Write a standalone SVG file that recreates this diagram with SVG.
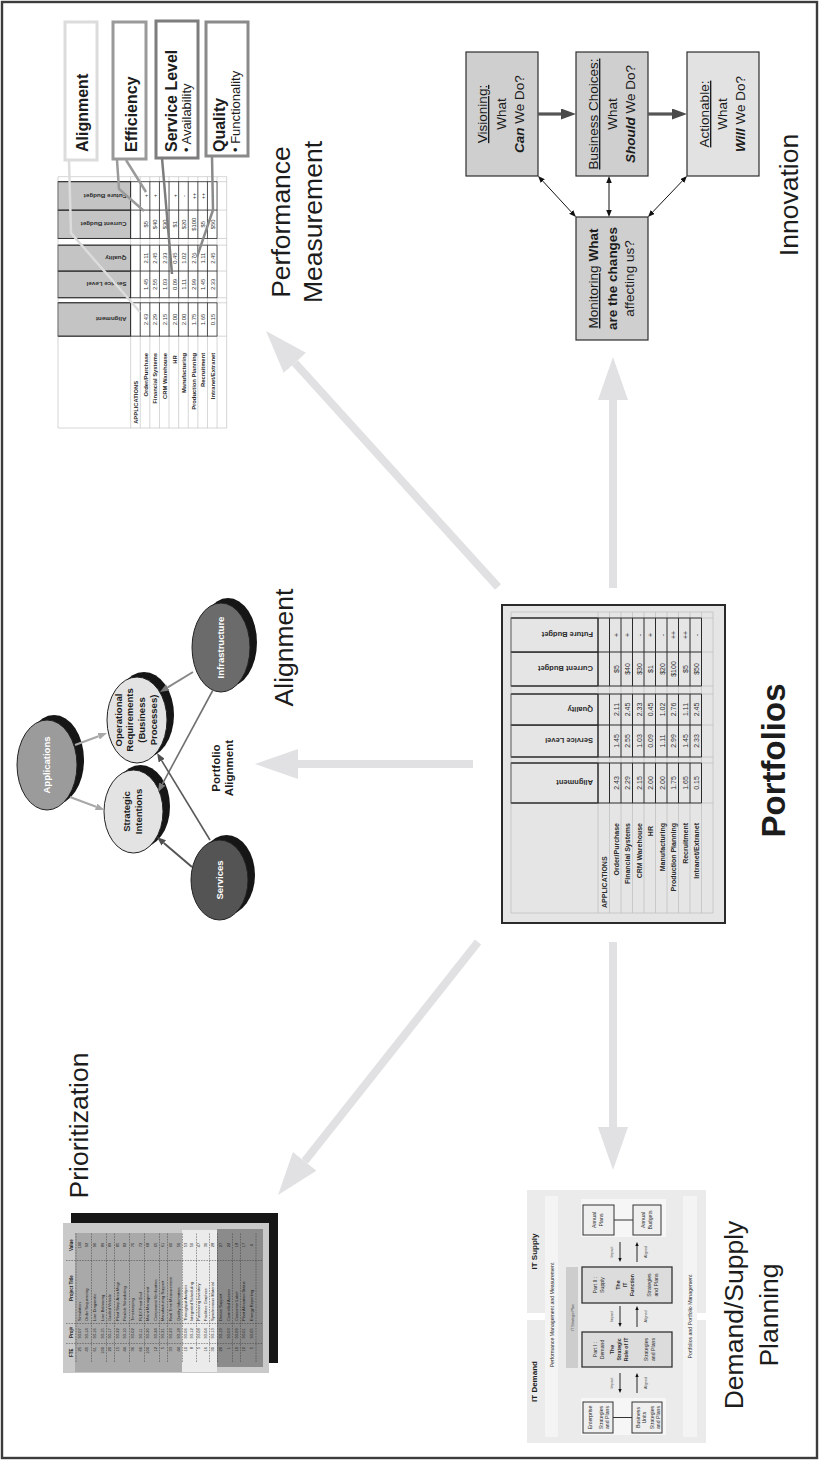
<svg xmlns="http://www.w3.org/2000/svg" width="820" height="1461" viewBox="0 0 820 1461">
<style>
text{font-family:"Liberation Sans",Arial,Helvetica,sans-serif;fill:#1c1c1c}
.lbl{font-size:26.5px;text-anchor:middle}
.ttl{font-size:33px;font-weight:bold;text-anchor:middle}
.hd{font-size:7.5px;font-weight:bold;fill:#2a2a2a}
.val{font-size:7px;text-anchor:middle;fill:#333}
.nm{font-size:7px;font-weight:bold;text-anchor:end;fill:#2a2a2a}
.kpi{font-size:16px;font-weight:bold}
.kpis{font-size:13px}
.inn{font-size:13.5px;text-anchor:middle}
.b{font-weight:bold}
.bi{font-weight:bold;font-style:italic}
.ul{text-decoration:underline}
.ell{font-size:9.5px;font-weight:bold;text-anchor:middle}
.wt{fill:#fff}
.pr{font-size:4px;fill:#1e1e1e}
.prh{font-size:4.5px;font-weight:bold;fill:#1e1e1e}
.e{text-anchor:end}
.m{text-anchor:middle}
.ds{font-size:5.2px;text-anchor:middle;fill:#2a2a2a}
.dsh{font-size:8px;font-weight:bold;text-anchor:middle}
.tiny{font-size:3.6px;text-anchor:middle;fill:#444}
.big{fill:none;stroke:#e1e1e3;stroke-width:8;marker-end:url(#bigHead)}
.ibox{stroke:#2e2e2e;stroke-width:1.2}
.dbl{fill:none;stroke:#111;stroke-width:1;marker-start:url(#thin);marker-end:url(#thin)}
.thick{fill:none;stroke:#555;stroke-width:3.2;marker-end:url(#thick)}
.sm{fill:none;stroke:#111;stroke-width:0.9;marker-end:url(#small)}
.dash{fill:none;stroke:#3a3a3a;stroke-width:0.5;stroke-dasharray:1.6 1.1}
.kbox{fill:#fff;stroke-width:3}
.dsbox{fill:#dcdcdc;stroke:#333;stroke-width:1.3}
.dssm{fill:#efefef;stroke:#333;stroke-width:1}
.shadow{fill:#161616}
.eln{stroke:#222;stroke-width:1}
</style>
<defs>
  <marker id="bigHead" markerUnits="userSpaceOnUse" markerWidth="43" markerHeight="30" viewBox="0 0 43 30" refX="0" refY="15" orient="auto"><path d="M0,0 L43,15 L0,30 Z" fill="#e1e1e3"/></marker>
  <marker id="thick" markerUnits="userSpaceOnUse" markerWidth="15" markerHeight="11" viewBox="0 0 15 11" refX="0" refY="5.5" orient="auto"><path d="M0,0 L15,5.5 L0,11 Z" fill="#4a4a4a"/></marker>
  <marker id="thin" markerUnits="userSpaceOnUse" markerWidth="7" markerHeight="5.5" viewBox="0 0 7 5.5" refX="0" refY="2.75" orient="auto-start-reverse"><path d="M0,0 L7,2.75 L0,5.5 Z" fill="#111"/></marker>
  <marker id="hL" markerUnits="userSpaceOnUse" markerWidth="9" markerHeight="7" viewBox="0 0 9 7" refX="0" refY="3.5" orient="auto"><path d="M0,0 L9,3.5 L0,7 Z" fill="#a8a8a8"/></marker>
  <marker id="hM" markerUnits="userSpaceOnUse" markerWidth="9" markerHeight="7" viewBox="0 0 9 7" refX="0" refY="3.5" orient="auto"><path d="M0,0 L9,3.5 L0,7 Z" fill="#7a7a7a"/></marker>
  <marker id="hD" markerUnits="userSpaceOnUse" markerWidth="9" markerHeight="7" viewBox="0 0 9 7" refX="0" refY="3.5" orient="auto"><path d="M0,0 L9,3.5 L0,7 Z" fill="#505050"/></marker>
  <marker id="small" markerUnits="userSpaceOnUse" markerWidth="4" markerHeight="3.4" viewBox="0 0 4 3.4" refX="0" refY="1.7" orient="auto"><path d="M0,0 L4,1.7 L0,3.4 Z" fill="#111"/></marker>

  <!-- portfolio scorecard table; header cells take the fill of the <use> -->
  <g id="ptable">
    <g stroke="#2b2b2b" stroke-width="1">
      <rect x="658" y="511" width="40" height="87"/>
      <rect x="704" y="511" width="32" height="87"/>
      <rect x="736" y="511" width="31" height="87"/>
      <rect x="775" y="511" width="34" height="87"/>
      <rect x="809" y="511" width="34" height="87"/>
    </g>
    <path fill="none" stroke="#c2c2c2" stroke-width="0.8" d="M548,511H849V713H548Z
      M548,598H658M698,598H704M767,598H775M843,598H849
      M548,609.5H658M698,609.5H704M767,609.5H775M843,609.5H849
      M548,621H658M698,621H704M767,621H775M843,621H849
      M548,632.5H658M698,632.5H704M767,632.5H775M843,632.5H849
      M548,644H658M698,644H704M767,644H775M843,644H849
      M548,655.5H658M698,655.5H704M767,655.5H775M843,655.5H849
      M548,667H658M698,667H704M767,667H775M843,667H849
      M548,678.5H658M698,678.5H704M767,678.5H775M843,678.5H849
      M548,690H658M698,690H704M767,690H775M843,690H849
      M548,701.5H658M698,701.5H704M767,701.5H775M843,701.5H849
      M658,701.5V713M698,701.5V713M704,701.5V713M736,701.5V713M767,701.5V713M775,701.5V713M809,701.5V713M843,701.5V713"/>
    <path fill="none" stroke="#2b2b2b" stroke-width="1" d="M658,511V701.5M698,511V701.5M704,511V701.5M736,511V701.5M767,511V701.5M775,511V701.5M809,511V701.5M843,511V701.5
      M658,598H698M704,598H767M775,598H843
      M658,609.5H698M704,609.5H767M775,609.5H843
      M658,621H698M704,621H767M775,621H843
      M658,632.5H698M704,632.5H767M775,632.5H843
      M658,644H698M704,644H767M775,644H843
      M658,655.5H698M704,655.5H767M775,655.5H843
      M658,667H698M704,667H767M775,667H843
      M658,678.5H698M704,678.5H767M775,678.5H843
      M658,690H698M704,690H767M775,690H843
      M658,701.5H698M704,701.5H767M775,701.5H843"/>
    <text class="hd" transform="translate(680.7,593) rotate(-90)">Alignment</text>
    <text class="hd" transform="translate(722.7,593) rotate(-90)">Service Level</text>
    <text class="hd" transform="translate(754.2,593) rotate(-90)">Quality</text>
    <text class="hd" transform="translate(794.7,593) rotate(-90)">Current Budget</text>
    <text class="hd" transform="translate(828.7,593) rotate(-90)">Future Budget</text>
    <text class="nm" style="text-anchor:start" x="553" y="607">APPLICATIONS</text>
    <text class="nm"><tspan x="638" y="618.5">Order/Purchase</tspan><tspan x="638" y="630">Financial Systems</tspan><tspan x="638" y="641.5">CRM Warehouse</tspan><tspan x="635" y="653">HR</tspan><tspan x="638" y="664.5">Manufacturing</tspan><tspan x="638" y="676">Production Planning</tspan><tspan x="638" y="687.5">Recruitment</tspan><tspan x="638" y="699">Intranet/Extranet</tspan></text>
    <text class="val"><tspan x="678" y="618.5">2.43</tspan><tspan x="678" y="630">2.29</tspan><tspan x="678" y="641.5">2.15</tspan><tspan x="678" y="653">2.00</tspan><tspan x="678" y="664.5">2.00</tspan><tspan x="678" y="676">1.75</tspan><tspan x="678" y="687.5">1.65</tspan><tspan x="678" y="699">0.15</tspan></text>
    <text class="val"><tspan x="720" y="618.5">1.45</tspan><tspan x="720" y="630">2.55</tspan><tspan x="720" y="641.5">1.03</tspan><tspan x="720" y="653">0.09</tspan><tspan x="720" y="664.5">1.11</tspan><tspan x="720" y="676">2.99</tspan><tspan x="720" y="687.5">1.45</tspan><tspan x="720" y="699">2.33</tspan></text>
    <text class="val"><tspan x="751.5" y="618.5">2.11</tspan><tspan x="751.5" y="630">2.45</tspan><tspan x="751.5" y="641.5">2.33</tspan><tspan x="751.5" y="653">0.45</tspan><tspan x="751.5" y="664.5">1.02</tspan><tspan x="751.5" y="676">2.76</tspan><tspan x="751.5" y="687.5">1.11</tspan><tspan x="751.5" y="699">2.45</tspan></text>
    <text class="val"><tspan x="792" y="618.5">$5</tspan><tspan x="792" y="630">$40</tspan><tspan x="792" y="641.5">$30</tspan><tspan x="792" y="653">$1</tspan><tspan x="792" y="664.5">$20</tspan><tspan x="792" y="676">$100</tspan><tspan x="792" y="687.5">$5</tspan><tspan x="792" y="699">$50</tspan></text>
    <text class="val"><tspan x="826" y="618.5">+</tspan><tspan x="826" y="630">+</tspan><tspan x="826" y="641.5">-</tspan><tspan x="826" y="653">+</tspan><tspan x="826" y="664.5">-</tspan><tspan x="826" y="676">++</tspan><tspan x="826" y="687.5">++</tspan><tspan x="826" y="699">-</tspan></text>
  </g>
</defs>

<rect width="820" height="1461" fill="#fff"/>
<rect id="frame" x="2" y="2" width="815" height="1456" fill="none" stroke="#3c3c3c" stroke-width="2.4"/>

<!-- landscape layout, turned a quarter turn counter-clockwise onto the page -->
<g id="page" transform="matrix(0,-1,1,0,0,1461)">

  <g id="portfolios">
    <rect x="538" y="502" width="318" height="223" fill="#e5e5e5" stroke="#2a2a2a" stroke-width="2"/>
    <use href="#ptable" fill="#e5e5e5"/>
    <text class="ttl" x="700.5" y="785">Portfolios</text>
  </g>

  <g id="performance-measurement">
    <use href="#ptable" fill="#c4c4c4" transform="matrix(0.835,0,0,0.835,575.4,-368.7)"/>
    <g id="kpi-alignment">
      <rect class="kbox" x="1301" y="65" width="138" height="32" stroke="#dcdcdc"/>
      <text class="kpi" x="1309" y="88">Alignment</text>
    </g>
    <g id="kpi-efficiency">
      <rect class="kbox" x="1302" y="113" width="137" height="33" stroke="#9a9a9a"/>
      <text class="kpi" x="1309" y="137">Efficiency</text>
    </g>
    <g id="kpi-service">
      <rect class="kbox" x="1303" y="156" width="137" height="42" stroke="#7d7d7d"/>
      <text class="kpi" x="1309" y="177">Service Level</text>
      <text class="kpis" x="1309" y="191">• Availability</text>
    </g>
    <g id="kpi-quality">
      <rect class="kbox" x="1305" y="206" width="134" height="42" stroke="#8a8a8a"/>
      <text class="kpi" x="1309" y="225">Quality</text>
      <text class="kpis" x="1309" y="240">• Functionality</text>
    </g>
    <text class="lbl" x="1239" y="290">Performance</text>
    <text class="lbl" x="1239" y="322">Measurement</text>
  </g>

  <g id="innovation">
    <g id="visioning">
      <rect class="ibox" x="1285" y="466" width="124" height="72" fill="#cfcfcf"/>
      <text class="inn ul" x="1347" y="487">Visioning:</text>
      <text class="inn" x="1347" y="506">What</text>
      <text class="inn" x="1347" y="524"><tspan class="bi">Can</tspan> We Do?</text>
    </g>
    <g id="business-choices">
      <rect class="ibox" x="1285" y="576" width="124" height="72" fill="#cfcfcf"/>
      <text class="inn ul" x="1347" y="598">Business Choices:</text>
      <text class="inn" x="1347" y="617">What</text>
      <text class="inn" x="1347" y="635"><tspan class="bi">Should</tspan> We Do?</text>
    </g>
    <g id="actionable">
      <rect class="ibox" x="1285" y="687" width="124" height="72" fill="#e2e2e2"/>
      <text class="inn ul" x="1347" y="709">Actionable:</text>
      <text class="inn" x="1347" y="727">What</text>
      <text class="inn" x="1347" y="745"><tspan class="bi">Will</tspan> We Do?</text>
    </g>
    <g id="monitoring">
      <rect class="ibox" x="1121" y="576" width="123" height="72" fill="#cfcfcf"/>
      <text class="inn" x="1182.5" y="598"><tspan class="ul">Monitoring</tspan> <tspan class="b">What</tspan></text>
      <text class="inn b" x="1182.5" y="617">are the changes</text>
      <text class="inn" x="1182.5" y="634">affecting us?</text>
    </g>
    <text class="lbl" x="1266" y="798">Innovation</text>
  </g>

  <g id="alignment">
    <g id="applications">
      <ellipse class="shadow" cx="701" cy="54" rx="45" ry="30"/>
      <ellipse class="eln" cx="696" cy="47" rx="45" ry="30" fill="#9b9b9b"/>
      <text class="ell wt" x="696" y="50.3">Applications</text>
    </g>
    <g id="strategic-intentions">
      <ellipse class="shadow" cx="654.5" cy="140.5" rx="41.5" ry="29.5"/>
      <ellipse class="eln" cx="649.5" cy="133.5" rx="41.5" ry="29.5" fill="#e3e3e3"/>
      <text class="ell" x="649.5" y="130">Strategic</text>
      <text class="ell" x="649.5" y="142">Intentions</text>
    </g>
    <g id="operational-requirements">
      <ellipse class="shadow" cx="746" cy="144" rx="43" ry="30"/>
      <ellipse class="eln" cx="741" cy="137" rx="43" ry="30" fill="#e3e3e3"/>
      <text class="ell" x="741" y="121.5">Operational</text>
      <text class="ell" x="741" y="133">Requirements</text>
      <text class="ell" x="741" y="145">(Business</text>
      <text class="ell" x="741" y="156.5">Processes)</text>
    </g>
    <g id="infrastructure">
      <ellipse class="shadow" cx="818.5" cy="228" rx="44.5" ry="29"/>
      <ellipse class="eln" cx="813.5" cy="221" rx="44.5" ry="29" fill="#6b6b6b"/>
      <text class="ell wt" x="813.5" y="224.3">Infrastructure</text>
    </g>
    <g id="services">
      <ellipse class="shadow" cx="586" cy="226.5" rx="40" ry="28.5"/>
      <ellipse class="eln" cx="581" cy="219.5" rx="40" ry="28.5" fill="#545454"/>
      <text class="ell wt" x="581" y="222.8">Services</text>
    </g>
    <text class="b m" font-size="11.5" x="693" y="220">Portfolio</text>
    <text class="b m" font-size="11.5" x="693" y="233">Alignment</text>
    <text class="lbl" x="813.5" y="293">Alignment</text>
  </g>

  <g id="prioritization">
    <rect x="98" y="71" width="150" height="207" fill="#161616"/>
    <rect x="88" y="63" width="150" height="206" fill="#c9c9c9"/>
    <rect x="89" y="75" width="139" height="107" fill="#a9a9a9"/>
    <rect x="89" y="182" width="142" height="35" fill="#ebebeb"/>
    <rect x="94" y="217" width="138" height="46" fill="#8b8b8b"/>
    <path class="dash" d="M117.5,66V262M137.5,66V262M200.5,66V262
      M99,76H228M99,91.5H228M99,106.5H228M99,114.5H228M99,129.5H228M99,144.5H228M99,159.5H228M99,167.5H228
      M99,182.5H228M99,196.5H228M99,209.5H228M99,217.5H228M99,232.5H228M99,240.5H228M99,256H228"/>
    <text class="prh" y="72.5"><tspan x="104">FTE</tspan><tspan x="123">Proj#</tspan><tspan x="160">Project Title</tspan><tspan x="210">Value</tspan></text>
    <text class="pr" y="80.8"><tspan class="e" x="114">25</tspan><tspan x="122.5">93-07</tspan><tspan x="140">Simulation</tspan><tspan class="m" x="216">100</tspan></text>
    <text class="pr" y="88.4"><tspan class="e" x="114">45</tspan><tspan x="122.5">93-14</tspan><tspan x="140">Order Sequencing</tspan><tspan class="m" x="216">92</tspan></text>
    <text class="pr" y="96"><tspan class="e" x="114">61</tspan><tspan x="122.5">93-16</tspan><tspan x="140">Line Diagnostic</tspan><tspan class="m" x="216">90</tspan></text>
    <text class="pr" y="103.6"><tspan class="e" x="114">100</tspan><tspan x="122.5">93-15</tspan><tspan x="140">Line Balancing</tspan><tspan class="m" x="216">89</tspan></text>
    <text class="pr" y="111.2"><tspan class="e" x="114">20</tspan><tspan x="122.5">93-17</tspan><tspan x="140">Guided Vehicle</tspan><tspan class="m" x="216">89</tspan></text>
    <text class="pr" y="118.8"><tspan class="e" x="114">15</tspan><tspan x="122.5">93-22</tspan><tspan x="140">Plant Shop Area Mngr</tspan><tspan class="m" x="216">85</tspan></text>
    <text class="pr" y="126.4"><tspan class="e" x="114">44</tspan><tspan x="122.5">93-10</tspan><tspan x="140">Flexible Scheduling</tspan><tspan class="m" x="216">82</tspan></text>
    <text class="pr" y="134"><tspan class="e" x="114">36</tspan><tspan x="122.5">93-02</tspan><tspan x="140">Timekeeping</tspan><tspan class="m" x="216">76</tspan></text>
    <text class="pr" y="141.6"><tspan class="e" x="114">66</tspan><tspan x="122.5">93-11</tspan><tspan x="140">FLEX Front End</tspan><tspan class="m" x="216">72</tspan></text>
    <text class="pr" y="149.2"><tspan class="e" x="114">100</tspan><tspan x="122.5">93-20</tspan><tspan x="140">Maint Management</tspan><tspan class="m" x="216">68</tspan></text>
    <text class="pr" y="156.8"><tspan class="e" x="114">12</tspan><tspan x="122.5">93-24</tspan><tspan x="140">Component Verification</tspan><tspan class="m" x="216">65</tspan></text>
    <text class="pr" y="164.4"><tspan class="e" x="114">5</tspan><tspan x="122.5">93-21</tspan><tspan x="140">Manufacturing Support</tspan><tspan class="m" x="216">61</tspan></text>
    <text class="pr" y="172"><tspan class="e" x="114">33</tspan><tspan x="122.5">93-23</tspan><tspan x="140">Real Time Measurement</tspan><tspan class="m" x="216">60</tspan></text>
    <text class="pr" y="179.6"><tspan class="e" x="114">44</tspan><tspan x="122.5">93-18</tspan><tspan x="140">Quality Information</tspan><tspan class="m" x="216">56</tspan></text>
    <text class="pr" y="186.5"><tspan class="e" x="114">10</tspan><tspan x="122.5">93-06</tspan><tspan x="140">Throughput Analysis</tspan><tspan class="m" x="216">53</tspan></text>
    <text class="pr" y="193.2"><tspan class="e" x="114">8</tspan><tspan x="122.5">93-12</tspan><tspan x="140">Integrated Scheduling</tspan><tspan class="m" x="216">50</tspan></text>
    <text class="pr" y="199.8"><tspan class="e" x="114">5</tspan><tspan x="122.5">93-08</tspan><tspan x="140">Purchasing Inventory</tspan><tspan class="m" x="216">47</tspan></text>
    <text class="pr" y="206.5"><tspan class="e" x="114">16</tspan><tspan x="122.5">93-04</tspan><tspan x="140">Facilities Graphics</tspan><tspan class="m" x="216">30</tspan></text>
    <text class="pr" y="214"><tspan class="e" x="114">30</tspan><tspan x="122.5">93-13</tspan><tspan x="140">Synchronous Material</tspan><tspan class="m" x="216">28</tspan></text>
    <text class="pr" y="222.2"><tspan class="e" x="114">20</tspan><tspan x="122.5">93-19</tspan><tspan x="140">Device Support</tspan><tspan class="m" x="216">27</tspan></text>
    <text class="pr" y="229.8"><tspan class="e" x="114">1</tspan><tspan x="122.5">93-03</tspan><tspan x="140">Controlled Access</tspan><tspan class="m" x="216">24</tspan></text>
    <text class="pr" y="237.5"><tspan class="e" x="114">10</tspan><tspan x="122.5">93-09</tspan><tspan x="140">Consumer Label</tspan><tspan class="m" x="216">18</tspan></text>
    <text class="pr" y="244.8"><tspan class="e" x="114">10</tspan><tspan x="122.5">93-01</tspan><tspan x="140">Plant Allocation Status</tspan><tspan class="m" x="216">17</tspan></text>
    <text class="pr" y="252.5"><tspan class="e" x="114">5</tspan><tspan x="122.5">93-05</tspan><tspan x="140">Energy Reporting</tspan><tspan class="m" x="216">4</tspan></text>
    <text class="lbl" x="335.5" y="88">Prioritization</text>
  </g>

  <g id="demand-supply">
    <rect x="148" y="527" width="123" height="179" fill="#ebebeb"/>
    <rect x="18" y="527" width="123" height="179" fill="#ebebeb"/>
    <rect x="140" y="547" width="9" height="150" fill="#ebebeb"/>
    <rect x="24" y="545" width="241" height="13" fill="#f4f4f4"/>
    <rect x="24" y="683" width="241" height="14" fill="#f4f4f4"/>
    <rect x="224" y="581" width="38" height="85" fill="#f6f6f6"/>
    <rect x="26" y="581" width="37" height="85" fill="#f6f6f6"/>
    <rect x="93" y="566" width="101" height="12" fill="#cdcdcd"/>
    <g id="part-supply">
      <rect class="dsbox" x="158" y="582" width="36" height="90"/>
      <text class="ds" x="176" y="596.5">Part II :</text>
      <text class="ds" x="176" y="603.5">Supply</text>
      <text class="ds b" x="176" y="620">The</text>
      <text class="ds b" x="176" y="627">IT</text>
      <text class="ds b" x="176" y="634">Function</text>
      <text class="ds" x="176" y="651">Strategies</text>
      <text class="ds" x="176" y="658">and Plans</text>
    </g>
    <g id="part-demand">
      <rect class="dsbox" x="94" y="582" width="35" height="90"/>
      <text class="ds" x="111.5" y="596.5">Part I :</text>
      <text class="ds" x="111.5" y="603.5">Demand</text>
      <text class="ds b" x="111.5" y="613.5">The</text>
      <text class="ds b" x="111.5" y="620.5">Strategic</text>
      <text class="ds b" x="111.5" y="627.5">Role of IT</text>
      <text class="ds" x="111.5" y="648">Strategies</text>
      <text class="ds" x="111.5" y="655">and Plans</text>
    </g>
    <g id="annual-plans">
      <rect class="dssm" x="226" y="583" width="30" height="31"/>
      <text class="ds" x="241" y="596">Annual</text>
      <text class="ds" x="241" y="603">Plans</text>
    </g>
    <g id="annual-budgets">
      <rect class="dssm" x="226" y="633" width="30" height="28"/>
      <text class="ds" x="241" y="645">Annual</text>
      <text class="ds" x="241" y="652">Budgets</text>
    </g>
    <g id="enterprise">
      <rect class="dssm" x="28" y="583" width="31" height="30"/>
      <text class="ds" x="43.5" y="592">Enterprise</text>
      <text class="ds" x="43.5" y="602.5">Strategies</text>
      <text class="ds" x="43.5" y="609">and Plans</text>
    </g>
    <g id="business-units">
      <rect class="dssm" x="28" y="632" width="31" height="30"/>
      <text class="ds" x="43.5" y="640">Business</text>
      <text class="ds" x="43.5" y="646">Units</text>
      <text class="ds" x="43.5" y="654">Strategies</text>
      <text class="ds" x="43.5" y="660">and Plans</text>
    </g>
    <text class="dsh" x="209.5" y="537">IT Supply</text>
    <text class="dsh" x="79.5" y="537">IT Demand</text>
    <text class="ds" x="146" y="554">Performance Management and Measurement</text>
    <text class="tiny" x="143.5" y="573.8">IT Strategic Plan</text>
    <text class="ds" x="144.5" y="692">Portfolios and Portfolio Management</text>
    <text class="tiny" x="209" y="613">Impact</text>
    <text class="tiny" x="209" y="647">Aligned</text>
    <text class="tiny" x="144.5" y="613">Impact</text>
    <text class="tiny" x="144.5" y="647">Aligned</text>
    <text class="tiny" x="78" y="613">Impact</text>
    <text class="tiny" x="78" y="647">Aligned</text>
    <text class="lbl" x="146" y="743">Demand/Supply</text>
    <text class="lbl" x="146" y="778">Planning</text>
  </g>

  <g id="connectors">
    <path class="big" d="M873,613 L1061,613"/>
    <path class="big" d="M519,613 L334,613"/>
    <path class="big" d="M697,473 L697,298"/>
    <path class="big" d="M874,498 L1098.1,294.9"/>
    <path class="big" d="M519,478 L299.7,304.7"/>

    <path class="thick" d="M1347,538 L1347,561"/>
    <path class="thick" d="M1347,648 L1347,672"/>
    <path class="dbl" d="M1279.9,542.8 L1249.1,571.2"/>
    <path class="dbl" d="M1278,609 L1251,609"/>
    <path class="dbl" d="M1279.9,682.2 L1249.1,652.8"/>

    <path d="M716,75 L724.8,98.6" fill="none" stroke="#a8a8a8" stroke-width="2.2" marker-end="url(#hL)"/>
    <path d="M664,70 L654.2,96.1" fill="none" stroke="#a8a8a8" stroke-width="2.2" marker-end="url(#hL)"/>
    <path d="M789,193 L773.7,167.7" fill="none" stroke="#888" stroke-width="2" marker-end="url(#hM)"/>
    <path d="M771,213 L676.9,162.3" fill="none" stroke="#707070" stroke-width="1.6" marker-end="url(#hM)"/>
    <path d="M621,210 L700.3,161.7" fill="none" stroke="#5a5a5a" stroke-width="1.6" marker-end="url(#hD)"/>
    <path d="M594,192 L618.1,163.8" fill="none" stroke="#555" stroke-width="2" marker-end="url(#hD)"/>

    <path d="M1300,69 L1228,71 L1149,140" fill="none" stroke="#dcdcdc" stroke-width="2.5"/>
    <path d="M1301,117 L1272,119 L1250,144 M1301,126 L1269,146" fill="none" stroke="#9a9a9a" stroke-width="2.5"/>
    <path d="M1303,162 L1187,172" fill="none" stroke="#7d7d7d" stroke-width="2.5"/>
    <path d="M1305,212 L1251,213 L1204,197" fill="none" stroke="#8a8a8a" stroke-width="2.5"/>

    <path class="sm" d="M219,620 L203,620"/>
    <path class="sm" d="M199,637 L215,637"/>
    <path class="sm" d="M155,620 L138,620"/>
    <path class="sm" d="M134,637 L151,637"/>
    <path class="sm" d="M88,620 L72,620"/>
    <path class="sm" d="M68,637 L84,637"/>
    <path d="M241,614 V633 M43.5,613 V632" stroke="#333" stroke-width="1"/>
  </g>
</g>
</svg>
